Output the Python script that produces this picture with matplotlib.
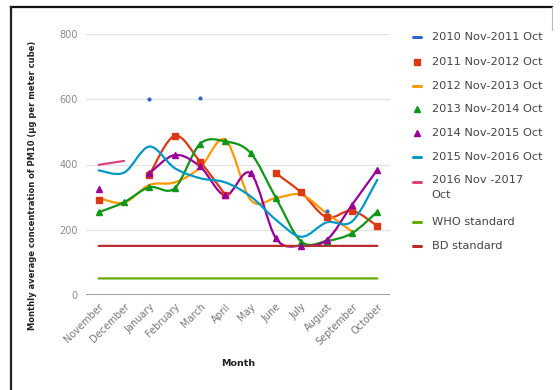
import numpy as np
import matplotlib
matplotlib.use("Agg")
import matplotlib.pyplot as plt
from matplotlib.path import Path
from matplotlib.patches import PathPatch
from matplotlib.lines import Line2D

months = ["November", "December", "January", "February", "March", "April",
          "May", "June", "July", "August", "September", "October"]

N = None
s2010 = [N, N, 600, N, 605, N, N, N, N, 258, N, N]
s2011 = [290, N, 368, 488, 409, 307, N, 373, 314, 238, 258, 211]
s2012 = [297, 283, 337, 345, 390, 476, 291, 297, 307, 250, 194, N]
s2013 = [253, 284, 330, 327, 463, 471, 435, 297, 163, 165, 189, 255]
s2014 = [326, N, 373, 429, 394, 305, 373, 173, 150, 168, 276, 384]
s2015 = [382, 375, 455, 389, 358, 345, 302, 230, 178, 222, 225, 353]
s2016 = [399, 411, N, N, N, N, N, N, N, N, N, N]
who_std = [50] * 12
bd_std = [150] * 12

series = [
    ("2010 Nov-2011 Oct", s2010, "#3366cc", None),
    ("2011 Nov-2012 Oct", s2011, "#dc3912", "s"),
    ("2012 Nov-2013 Oct", s2012, "#ff9900", None),
    ("2013 Nov-2014 Oct", s2013, "#109618", "^"),
    ("2014 Nov-2015 Oct", s2014, "#990099", "^"),
    ("2015 Nov-2016 Oct", s2015, "#0099c6", None),
    ("2016 Nov -2017\nOct", s2016, "#dd4477", None),
    ("WHO standard", who_std, "#66aa00", None),
    ("BD standard", bd_std, "#b82e2e", None),
]

W, H = 560, 390
fig = plt.figure(figsize=(W / 100, H / 100), dpi=100)
fig.patch.set_facecolor("white")


def fx(px):
    return px / W


def fy(py):
    return 1 - py / H


ax = fig.add_axes([fx(86), fy(294.7), fx(390) - fx(86), fy(34.3) - fy(294.7)])
ax.set_xlim(-0.5, len(months) - 0.5)
ax.set_ylim(0, 800)
for sp in ax.spines.values():
    sp.set_visible(False)
ax.set_yticks([0, 200, 400, 600, 800])
for v in [200, 400, 600, 800]:
    ax.axhline(v, color="#e3e3e3", lw=0.9, zorder=0)
ax.axhline(0, color="#8a8f98", lw=1.2, zorder=1)
ax.tick_params(axis="both", length=0, colors="#8a8a8a", labelsize=7)
ax.tick_params(axis="y", pad=6)
ax.set_xticks(range(len(months)))
ax.set_xticklabels(months, rotation=45, ha="right", va="top",
                   rotation_mode="anchor", fontsize=7, color="#777777")
ax.tick_params(axis="x", pad=5)


def runs(vals):
    """Split a series into consecutive non-missing runs of (x, y)."""
    out, cur = [], []
    for i, v in enumerate(vals):
        if v is None:
            if cur:
                out.append(cur)
            cur = []
        else:
            cur.append((i, v))
    if cur:
        out.append(cur)
    return out


def smooth_path(pts):
    """Cubic Bezier path through the points (Catmull-Rom tangents)."""
    p = np.array(pts, dtype=float)
    verts = [tuple(p[0])]
    codes = [Path.MOVETO]
    n = len(p)
    for i in range(n - 1):
        p0 = p[i - 1] if i > 0 else p[i]
        p1, p2 = p[i], p[i + 1]
        p3 = p[i + 2] if i + 2 < n else p[i + 1]
        c1 = p1 + (p2 - p0) / 6.0
        c2 = p2 - (p3 - p1) / 6.0
        verts += [tuple(c1), tuple(c2), tuple(p2)]
        codes += [Path.CURVE4] * 3
    return Path(verts, codes)


for label, vals, color, marker in series:
    for run in runs(vals):
        if len(run) > 1:
            ax.add_patch(PathPatch(smooth_path(run), facecolor="none",
                                   edgecolor=color, lw=1.6, zorder=3,
                                   capstyle="round", joinstyle="round"))
        xs = [r[0] for r in run]
        ys = [r[1] for r in run]
        if marker:
            ax.plot(xs, ys, linestyle="none", marker=marker, ms=5,
                    color=color, zorder=4)
        elif len(run) == 1:
            ax.plot(xs, ys, linestyle="none", marker="o", ms=2,
                    color=color, zorder=5)

ax.set_ylabel("Monthly average concentration of PM10 (\u00b5g per meter cube)",
              fontsize=6.0, fontweight="bold", color="#222222")
ax.yaxis.set_label_coords((37 - 86) / (390 - 86), (294.7 - 185) / (294.7 - 34.3))
fig.text(fx(238), fy(363), "Month", fontsize=6.8, fontweight="bold",
         color="#222222", ha="center", va="center")

# Legend drawn row by row
legend_rows = [36.7, 61.7, 86, 109.3, 133.3, 157.3, 181.7, 221.7, 246]
for (label, vals, color, marker), ry in zip(series, legend_rows):
    if marker:
        fig.add_artist(Line2D([fx(417)], [fy(ry)], marker=marker, ms=5,
                              color=color, linestyle="none",
                              transform=fig.transFigure))
    else:
        fig.add_artist(Line2D([fx(413), fx(421)], [fy(ry), fy(ry)],
                              color=color, lw=2.2, solid_capstyle="round",
                              transform=fig.transFigure))
    if "\n" in label:
        fig.text(fx(431.5), fy(ry - 6.5), label, fontsize=8.2,
                 color="#444444", ha="left", va="top", linespacing=1.55)
    else:
        fig.text(fx(431.5), fy(ry), label, fontsize=8.2, color="#444444",
                 ha="left", va="center")

# Outer frame
fig.add_artist(Line2D([fx(11), fx(552)], [fy(7), fy(7)], color="#111111",
                      lw=1.6, transform=fig.transFigure))
fig.add_artist(Line2D([fx(11), fx(11)], [fy(7), fy(390)], color="#222222",
                      lw=1.6, transform=fig.transFigure))
fig.add_artist(Line2D([fx(552), fx(552)], [fy(7), fy(30)], color="#bbbbbb",
                      lw=0.8, transform=fig.transFigure))

fig.savefig("out.png", dpi=100)
